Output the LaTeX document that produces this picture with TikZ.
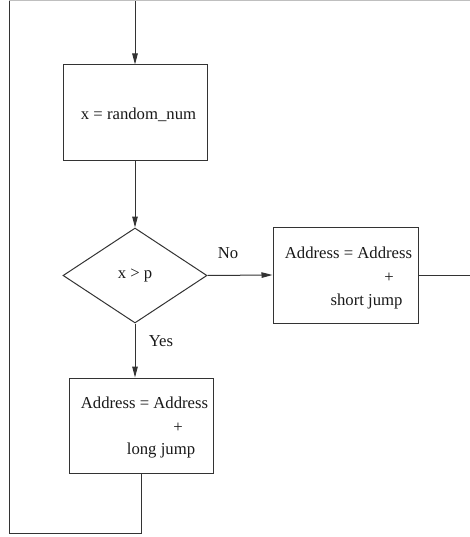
\documentclass[tikz,border=0pt]{standalone}
\usepackage{fontspec}
\setmainfont{Liberation Serif}
\usetikzlibrary{arrows.meta,shapes.geometric}
\begin{document}
\begin{tikzpicture}[x=1pt,y=-1pt,
  line/.style={draw=black!80,line width=1pt},
  arr/.style={line,-{Triangle[length=11pt,width=5.5pt]}},
  box/.style={line,rectangle,inner sep=0pt},
  txt/.style={inner sep=0pt,font=\fontsize{16.7}{20}\selectfont,text=black!90},
  every node/.style={font=\fontsize{16.7}{20}\selectfont}]
\useasboundingbox (0,0) rectangle (470,537);
% boxes
\node[box,minimum width=144pt,minimum height=96pt] (rand) at (135,113) {};
\node[txt] (randt) at (138.5,115) {x = random\_num};
\node[line,diamond,minimum width=144pt,minimum height=95pt,inner sep=0pt] (dec) at (135,275.5) {};
\node[txt] (dect) at (135,275) {x > p};
\node[box,minimum width=145pt,minimum height=96pt] (shortb) at (345.5,275) {};
\node[txt] (s1) at (348.5,253) {Address = Address};
\node[txt] (s2) at (389,278) {+};
\node[txt] (s3) at (366.5,301) {short jump};
\node[box,minimum width=144pt,minimum height=95pt] (longb) at (141,425.5) {};
\node[txt] (l1) at (144.5,403) {Address = Address};
\node[txt] (l2) at (178,428) {+};
\node[txt] (l3) at (161,451) {long jump};
% labels
\node[txt] (no) at (228,253) {No};
\node[txt] (yes) at (161,341) {Yes};
% coordinates
\coordinate (top) at (135,0);
\coordinate (tl) at (9,0.6);
\coordinate (tr) at (470,0.6);
\coordinate (rend) at (470,275);
\coordinate (bl) at (9,533);
\coordinate (br) at (141,533);
% connectors
\draw[arr] (top) -- (rand.north);
\draw[arr] (rand.south) -- (dec.north);
\draw[arr] (dec.east) -- (shortb.west);
\draw[arr] (dec.south) -- (dec.south |- longb.north);
\draw[line] (shortb.east) -- (rend);
\draw[line] (longb.south) -- (br) -- (bl) -- (tl);
\draw[draw=black!25,line width=1.2pt] (tl) -- (tr);
\end{tikzpicture}
\end{document}
